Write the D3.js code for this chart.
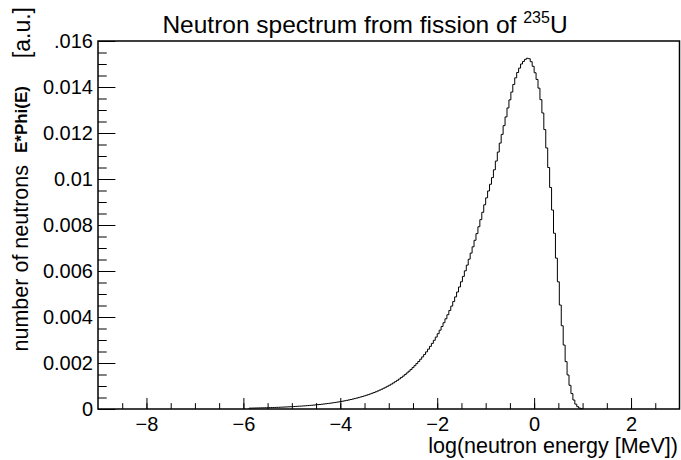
<!DOCTYPE html>
<html>
<head>
<meta charset="utf-8">
<script src="https://cdn.jsdelivr.net/npm/d3@7"></script>
<style>
	body { margin: 0; background: #fff; }
	svg { display: block; font-family: "Liberation Sans", Arial, sans-serif; }
	.tick text { fill: #000; }
</style>
</head>
<body>
<div id="chart"></div>
<script>
///////////////////////////////////////////////////////////////////////////
//////////////////////////// data /////////////////////////////////////////
///////////////////////////////////////////////////////////////////////////

// histogram in log10(E), fixed bin width, first non-empty bin edge
const binStart = -5.88;
const binWidth = 0.04;

// bin contents E*Phi(E)
const binValues = [
	3.76e-5, 3.94e-5, 4.12e-5, 4.32e-5, 4.52e-5, 4.73e-5, 4.96e-5, 5.19e-5, 5.44e-5, 5.69e-5,
	5.96e-5, 6.24e-5, 6.54e-5, 6.84e-5, 7.17e-5, 7.50e-5, 7.86e-5, 8.23e-5, 8.62e-5, 9.02e-5,
	9.45e-5, 9.89e-5,
	10.35e-5, 10.84e-5, 11.35e-5, 11.89e-5, 12.45e-5, 13.04e-5, 13.65e-5, 14.29e-5, 14.97e-5, 15.67e-5,
	16.41e-5, 17.18e-5, 17.99e-5, 18.84e-5, 19.73e-5, 20.66e-5, 21.64e-5, 22.66e-5, 23.72e-5, 24.84e-5,
	26.01e-5, 27.24e-5, 28.52e-5, 29.87e-5, 31.27e-5, 32.75e-5, 34.29e-5, 35.91e-5, 37.60e-5, 39.37e-5,
	41.23e-5, 43.17e-5, 45.21e-5, 47.34e-5, 49.57e-5, 51.91e-5, 54.36e-5, 56.92e-5, 59.60e-5, 62.41e-5,
	65.35e-5, 68.43e-5, 71.66e-5, 75.04e-5, 78.57e-5, 82.28e-5, 86.16e-5, 90.22e-5, 94.47e-5, 98.92e-5,
	0.001035, 0.001084, 0.001135, 0.001189, 0.001245, 0.001304, 0.001365, 0.001429, 0.001497, 0.001567,
	0.001641, 0.001718, 0.001799, 0.001884, 0.001973, 0.002066, 0.002164, 0.002266, 0.002372, 0.002484,
	0.002601, 0.002724, 0.002852, 0.002987, 0.003127,
	0.003274, 0.003427, 0.003586, 0.003751, 0.003922, 0.004099, 0.004283, 0.004473, 0.004671, 0.004875,
	0.005086, 0.005305, 0.005531, 0.005765, 0.006007, 0.006256, 0.006513, 0.006779, 0.007052, 0.007335,
	0.007626, 0.007925, 0.008234, 0.008551, 0.008878,
	0.00918, 0.00948, 0.00977, 0.01006, 0.01040, 0.01078, 0.01117, 0.01156, 0.01194, 0.01232,
	0.01270, 0.01309, 0.01344, 0.01378, 0.01411, 0.01440, 0.01463, 0.01482, 0.01500, 0.01511,
	0.01520, 0.01525, 0.01523, 0.01510, 0.01490, 0.01462, 0.01433, 0.01395, 0.01345, 0.01287,
	0.01215, 0.01135, 0.01050, 0.00963, 0.00865, 0.00764, 0.00656, 0.00553, 0.00452, 0.00362,
	0.00278, 0.00206, 0.00148, 0.00103, 0.00067, 0.00039, 0.00021, 0.00010, 0.00004, 0.00001
];

const xDomain = [-9, 3];
const yDomain = [0, 0.016];
const xMajorTicks = [-8, -6, -4, -2, 0, 2];
const yMajorTicks = [0, 0.002, 0.004, 0.006, 0.008, 0.01, 0.012, 0.014, 0.016];
const yTickLabels = ["0", "0.002", "0.004", "0.006", "0.008", "0.01", "0.012", "0.014", ".016"];

///////////////////////////////////////////////////////////////////////////
//////////////////////////// svg //////////////////////////////////////////
///////////////////////////////////////////////////////////////////////////

var width = 681,
	height = 460,
	margin = { top: 41, right: 1.5, bottom: 51, left: 98 };

const svg = d3.select("#chart")
	.append("svg")
	.attr("width", width)
	.attr("height", height);

var xScale = d3.scaleLinear().domain(xDomain).range([margin.left, width - margin.right]);
var yScale = d3.scaleLinear().domain(yDomain).range([height - margin.bottom, margin.top]);

const xLen = width - margin.right - margin.left;
const yLen = height - margin.bottom - margin.top;

// axes: ticks point inside the frame, root style
const xMinor = svg.append("g")
	.attr("transform", "translate(0," + (height - margin.bottom) + ")")
	.call(d3.axisBottom(xScale)
		.tickValues(d3.range(-8.5, 3, 0.5))
		.tickSizeInner(-0.016 * yLen)
		.tickSizeOuter(0)
		.tickFormat(""));

const xAxis = svg.append("g")
	.attr("transform", "translate(0," + (height - margin.bottom) + ")")
	.call(d3.axisBottom(xScale)
		.tickValues(xMajorTicks)
		.tickSizeInner(-0.03 * yLen)
		.tickSizeOuter(0)
		.tickPadding(8)
		.tickFormat((d) => (d < 0 ? "\u2212" + Math.abs(d) : d)));

const yMinor = svg.append("g")
	.attr("transform", "translate(" + margin.left + ",0)")
	.call(d3.axisLeft(yScale)
		.tickValues(d3.range(0, 0.01601, 0.0005))
		.tickSizeInner(-0.015 * xLen)
		.tickSizeOuter(0)
		.tickFormat(""));

const yAxis = svg.append("g")
	.attr("transform", "translate(" + margin.left + ",0)")
	.call(d3.axisLeft(yScale)
		.tickValues(yMajorTicks)
		.tickSizeInner(-0.03 * xLen)
		.tickSizeOuter(0)
		.tickPadding(5)
		.tickFormat((d, i) => yTickLabels[i]));

svg.selectAll(".domain").remove();
svg.selectAll(".tick line").attr("stroke", "#000").attr("stroke-width", 1);
xAxis.selectAll("text").style("font-size", "20px");
yAxis.selectAll("text").style("font-size", "20px");

///////////////////////////////////////////////////////////////////////////
//////////////////////////// histogram ////////////////////////////////////
///////////////////////////////////////////////////////////////////////////

const points = [[binStart, 0]];
binValues.forEach(function (v, i) {
	points.push([binStart + i * binWidth, v]);
});
points.push([binStart + binValues.length * binWidth, 0]);

const line = d3.line()
	.x((d) => xScale(d[0]))
	.y((d) => yScale(d[1]))
	.curve(d3.curveStepAfter);

svg.append("path")
	.datum(points)
	.attr("d", line)
	.attr("fill", "none")
	.attr("stroke", "#000")
	.attr("stroke-width", 1);

// frame
svg.append("rect")
	.attr("x", margin.left)
	.attr("y", margin.top)
	.attr("width", xLen)
	.attr("height", yLen)
	.attr("fill", "none")
	.attr("stroke", "#000")
	.attr("stroke-width", 1.5);

///////////////////////////////////////////////////////////////////////////
//////////////////////////// titles ///////////////////////////////////////
///////////////////////////////////////////////////////////////////////////

const title = svg.append("text")
	.attr("x", 365)
	.attr("y", 33)
	.attr("text-anchor", "middle")
	.style("font-size", "24.5px");
title.append("tspan").text("Neutron spectrum from fission of ");
title.append("tspan").attr("dy", -10).style("font-size", "16px").text("235");
title.append("tspan").attr("dy", 10).text("U");

svg.append("text")
	.attr("x", 678)
	.attr("y", 453)
	.attr("text-anchor", "end")
	.style("font-size", "21.5px")
	.text("log(neutron energy [MeV])");

// y title in three pieces, placed along the axis like the original
svg.append("text")
	.attr("transform", "translate(28,165) rotate(-90)")
	.attr("text-anchor", "end")
	.style("font-size", "21.5px")
	.text("number of neutrons");

svg.append("text")
	.attr("transform", "translate(27,86) rotate(-90)")
	.attr("text-anchor", "end")
	.style("font-size", "17px")
	.style("font-weight", "bold")
	.text("E*Phi(E)");

svg.append("text")
	.attr("transform", "translate(30,7) rotate(-90)")
	.attr("text-anchor", "end")
	.style("font-size", "23px")
	.text("[a.u.]");
</script>
</body>
</html>
